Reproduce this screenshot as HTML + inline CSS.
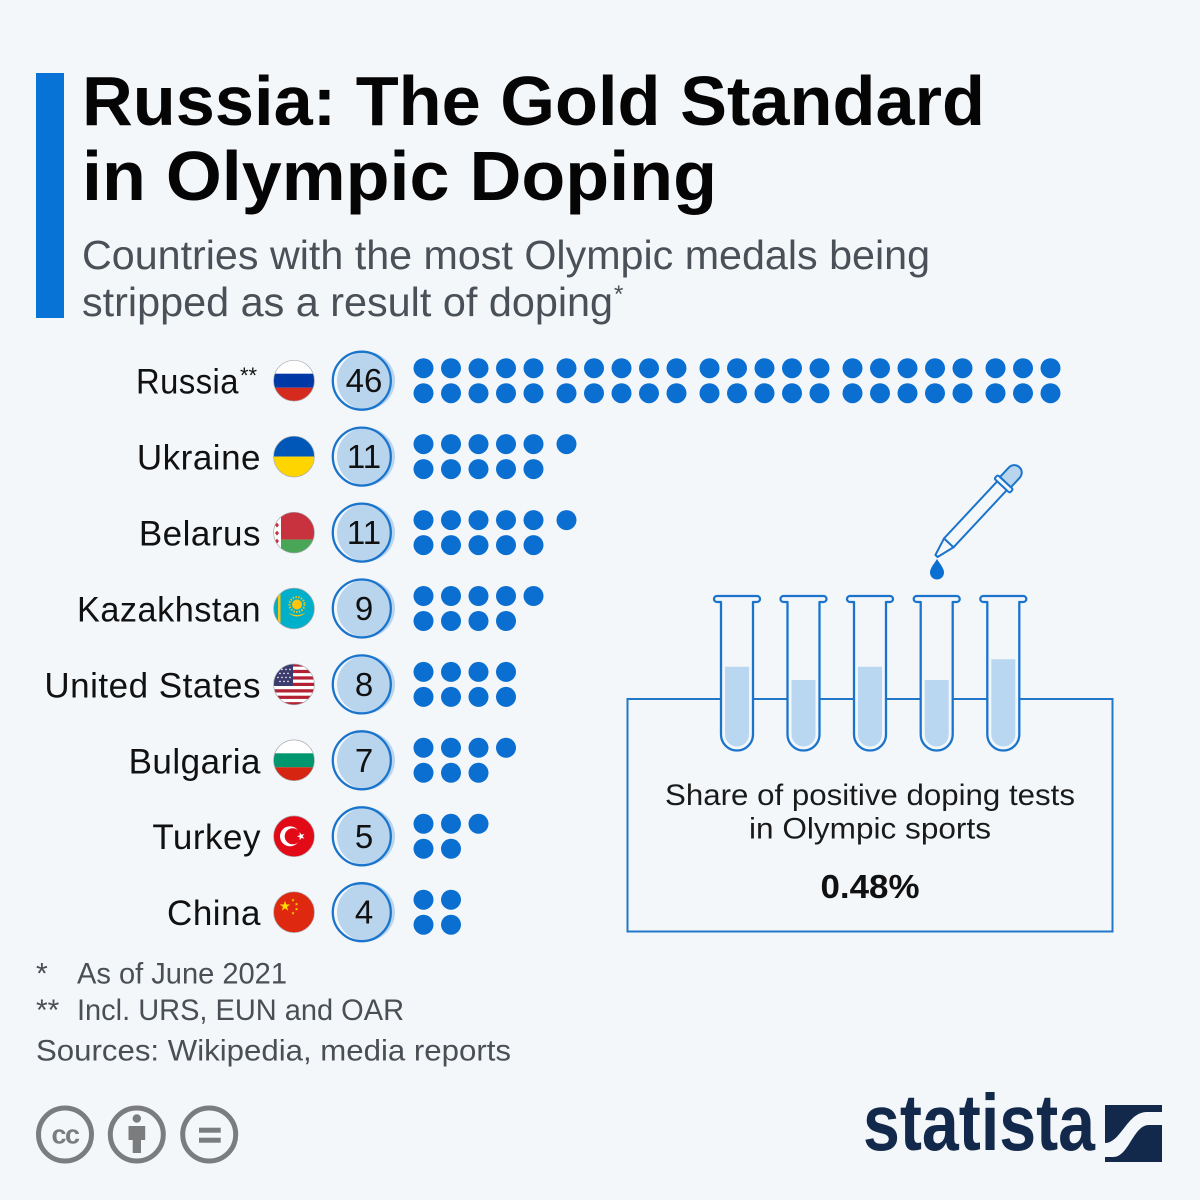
<!DOCTYPE html>
<html><head><meta charset="utf-8"><style>
html,body{margin:0;padding:0;background:#f4f7fa;}
svg{display:block;}
text{font-family:"Liberation Sans",sans-serif;}
</style></head><body>
<svg width="1200" height="1200" viewBox="0 0 1200 1200" xmlns="http://www.w3.org/2000/svg">
<defs>
  <clipPath id="fc"><circle cx="0" cy="0" r="20.4"/></clipPath>
  <polygon id="star" points="0,-1 0.2245,-0.309 0.951,-0.309 0.363,0.118 0.588,0.809 0,0.382 -0.588,0.809 -0.363,0.118 -0.951,-0.309 -0.2245,-0.309"/>
  <g id="d1" fill="#0a6fd0"><circle cx="0" cy="0" r="10"/></g>
  <g id="d2" fill="#0a6fd0"><circle cx="0" cy="0" r="10"/><circle cx="27.5" cy="0" r="10"/></g>
  <g id="d3" fill="#0a6fd0"><circle cx="0" cy="0" r="10"/><circle cx="27.5" cy="0" r="10"/><circle cx="55" cy="0" r="10"/></g>
  <g id="d4" fill="#0a6fd0"><circle cx="0" cy="0" r="10"/><circle cx="27.5" cy="0" r="10"/><circle cx="55" cy="0" r="10"/><circle cx="82.5" cy="0" r="10"/></g>
  <g id="d5" fill="#0a6fd0"><circle cx="0" cy="0" r="10"/><circle cx="27.5" cy="0" r="10"/><circle cx="55" cy="0" r="10"/><circle cx="82.5" cy="0" r="10"/><circle cx="110" cy="0" r="10"/></g>
</defs>
<rect width="1200" height="1200" fill="#f4f7fa"/>

<!-- Title bar -->
<rect x="36" y="73" width="28" height="245" fill="#0873d6"/>
<text x="82" y="125" font-size="70" font-weight="bold" fill="#050505" textLength="903" lengthAdjust="spacingAndGlyphs">Russia: The Gold Standard</text>
<text x="82" y="200" font-size="70" font-weight="bold" fill="#050505" textLength="635" lengthAdjust="spacingAndGlyphs">in Olympic Doping</text>
<text x="82" y="269" font-size="41" fill="#4a5057" textLength="848" lengthAdjust="spacingAndGlyphs">Countries with the most Olympic medals being</text>
<text x="82" y="316" font-size="41" fill="#4a5057" textLength="531" lengthAdjust="spacingAndGlyphs">stripped as a result of doping</text>
<text x="614" y="302" font-size="24" fill="#4a5057">*</text>

<!-- Country labels -->
<g font-size="35" fill="#111" text-anchor="end" letter-spacing="0.5">
  <text x="239" y="393.5" textLength="103" lengthAdjust="spacingAndGlyphs">Russia</text>
  <text x="261" y="469.5">Ukraine</text>
  <text x="261" y="545.5">Belarus</text>
  <text x="261" y="621.5" textLength="184" lengthAdjust="spacingAndGlyphs">Kazakhstan</text>
  <text x="261" y="697.5">United States</text>
  <text x="261" y="773.3">Bulgaria</text>
  <text x="261" y="849.2">Turkey</text>
  <text x="261" y="925.2">China</text>
</g>
<text x="240" y="383" font-size="22" fill="#111">**</text>

<!-- Flags -->
<g stroke="none">
  <g transform="translate(294,380.7)" clip-path="url(#fc)">
    <rect x="-21" y="-21" width="42" height="14" fill="#ffffff"/>
    <rect x="-21" y="-7" width="42" height="14" fill="#0039a6"/>
    <rect x="-21" y="7" width="42" height="14" fill="#d52b1e"/>
  </g>
  <g transform="translate(294,456.6)" clip-path="url(#fc)">
    <rect x="-21" y="-21" width="42" height="21" fill="#0057b7"/>
    <rect x="-21" y="0" width="42" height="21" fill="#ffd500"/>
  </g>
  <g transform="translate(294,532.6)" clip-path="url(#fc)">
    <rect x="-21" y="-21" width="42" height="28" fill="#c8313e"/>
    <rect x="-21" y="7" width="42" height="14" fill="#4aa657"/>
    <rect x="-21" y="-21" width="8" height="42" fill="#ffffff"/>
    <g fill="#c8313e">
      <path d="M-17,-18 l2,2.5 l-2,2.5 l-2,-2.5z"/>
      <path d="M-17,-10 l2,2.5 l-2,2.5 l-2,-2.5z"/>
      <path d="M-17,-2 l2,2.5 l-2,2.5 l-2,-2.5z"/>
      <path d="M-17,6 l2,2.5 l-2,2.5 l-2,-2.5z"/>
      <path d="M-17,14 l2,2.5 l-2,2.5 l-2,-2.5z"/>
    </g>
  </g>
  <g transform="translate(294,608.5)" clip-path="url(#fc)">
    <rect x="-21" y="-21" width="42" height="42" fill="#00afca"/>
    <rect x="-16" y="-18" width="2.5" height="36" fill="#fec50c"/>
    <circle cx="3" cy="-4" r="7.5" fill="none" stroke="#fec50c" stroke-width="2" stroke-dasharray="1.4 1.4"/>
    <circle cx="3" cy="-4" r="5" fill="#fec50c"/>
    <path d="M-6,4 Q3,9 12,4 Q3,12 -6,4z" fill="#fec50c"/>
  </g>
  <g transform="translate(294,684.4)" clip-path="url(#fc)">
    <rect x="-21" y="-21" width="42" height="42" fill="#ffffff"/>
    <g fill="#b22234">
      <rect x="-21" y="-21" width="42" height="3.23"/>
      <rect x="-21" y="-14.54" width="42" height="3.23"/>
      <rect x="-21" y="-8.08" width="42" height="3.23"/>
      <rect x="-21" y="-1.62" width="42" height="3.23"/>
      <rect x="-21" y="4.84" width="42" height="3.23"/>
      <rect x="-21" y="11.3" width="42" height="3.23"/>
      <rect x="-21" y="17.76" width="42" height="3.23"/>
    </g>
    <rect x="-21" y="-21" width="20" height="22.6" fill="#3c3b6e"/>
    <g fill="#fff">
      <circle cx="-16" cy="-15" r="0.8"/><circle cx="-12" cy="-15" r="0.8"/><circle cx="-8" cy="-15" r="0.8"/><circle cx="-4" cy="-15" r="0.8"/>
      <circle cx="-14" cy="-11" r="0.8"/><circle cx="-10" cy="-11" r="0.8"/><circle cx="-6" cy="-11" r="0.8"/>
      <circle cx="-16" cy="-7" r="0.8"/><circle cx="-12" cy="-7" r="0.8"/><circle cx="-8" cy="-7" r="0.8"/><circle cx="-4" cy="-7" r="0.8"/>
      <circle cx="-14" cy="-3" r="0.8"/><circle cx="-10" cy="-3" r="0.8"/><circle cx="-6" cy="-3" r="0.8"/>
    </g>
  </g>
  <g transform="translate(294,760.3)" clip-path="url(#fc)">
    <rect x="-21" y="-21" width="42" height="14" fill="#ffffff"/>
    <rect x="-21" y="-7" width="42" height="14" fill="#00966e"/>
    <rect x="-21" y="7" width="42" height="14" fill="#d62612"/>
  </g>
  <g transform="translate(294,836.3)" clip-path="url(#fc)">
    <rect x="-21" y="-21" width="42" height="42" fill="#e30a17"/>
    <circle cx="-4" cy="0" r="10" fill="#fff"/>
    <circle cx="-1.3" cy="0" r="8" fill="#e30a17"/>
    <use href="#star" transform="translate(7,0) rotate(-90) scale(4.2)" fill="#fff"/>
  </g>
  <g transform="translate(294,912.2)" clip-path="url(#fc)">
    <rect x="-21" y="-21" width="42" height="42" fill="#de2910"/>
    <use href="#star" transform="translate(-9,-6) scale(5.5)" fill="#ffde00"/>
    <use href="#star" transform="translate(-1,-12) scale(1.8)" fill="#ffde00"/>
    <use href="#star" transform="translate(2.5,-8) scale(1.8)" fill="#ffde00"/>
    <use href="#star" transform="translate(2.5,-3) scale(1.8)" fill="#ffde00"/>
    <use href="#star" transform="translate(-1,1) scale(1.8)" fill="#ffde00"/>
  </g>
  <g fill="none" stroke="#a8acb0" stroke-width="0.7">
    <circle cx="294" cy="380.7" r="20.4"/><circle cx="294" cy="456.6" r="20.4"/>
    <circle cx="294" cy="532.6" r="20.4"/><circle cx="294" cy="608.5" r="20.4"/>
    <circle cx="294" cy="684.4" r="20.4"/><circle cx="294" cy="760.3" r="20.4"/>
    <circle cx="294" cy="836.3" r="20.4"/><circle cx="294" cy="912.2" r="20.4"/>
  </g>
</g>

<!-- Badges -->
<g>
  <g fill="#b9d5ee">
    <circle cx="366" cy="380.7" r="29"/><circle cx="366" cy="456.6" r="29"/>
    <circle cx="366" cy="532.6" r="29"/><circle cx="366" cy="608.5" r="29"/>
    <circle cx="366" cy="684.4" r="29"/><circle cx="366" cy="760.3" r="29"/>
    <circle cx="366" cy="836.3" r="29"/><circle cx="366" cy="912.2" r="29"/>
  </g>
  <g fill="none" stroke="#1b74cb" stroke-width="2.3">
    <circle cx="361.8" cy="380.7" r="29"/><circle cx="361.8" cy="456.6" r="29"/>
    <circle cx="361.8" cy="532.6" r="29"/><circle cx="361.8" cy="608.5" r="29"/>
    <circle cx="361.8" cy="684.4" r="29"/><circle cx="361.8" cy="760.3" r="29"/>
    <circle cx="361.8" cy="836.3" r="29"/><circle cx="361.8" cy="912.2" r="29"/>
  </g>
  <g font-size="33" fill="#111" text-anchor="middle">
    <text x="364" y="392.2">46</text>
    <text x="364" y="468.1">11</text>
    <text x="364" y="544.1">11</text>
    <text x="364" y="620">9</text>
    <text x="364" y="695.9">8</text>
    <text x="364" y="771.8">7</text>
    <text x="364" y="847.8">5</text>
    <text x="364" y="923.7">4</text>
  </g>
</g>

<!-- Dots -->
<g>
  <use href="#d5" x="423.5" y="368.2"/><use href="#d5" x="566.5" y="368.2"/><use href="#d5" x="709.5" y="368.2"/><use href="#d5" x="852.5" y="368.2"/><use href="#d3" x="995.5" y="368.2"/>
  <use href="#d5" x="423.5" y="393.2"/><use href="#d5" x="566.5" y="393.2"/><use href="#d5" x="709.5" y="393.2"/><use href="#d5" x="852.5" y="393.2"/><use href="#d3" x="995.5" y="393.2"/>
  <use href="#d5" x="423.5" y="444.1"/><use href="#d1" x="566.5" y="444.1"/>
  <use href="#d5" x="423.5" y="469.1"/>
  <use href="#d5" x="423.5" y="520.1"/><use href="#d1" x="566.5" y="520.1"/>
  <use href="#d5" x="423.5" y="545.1"/>
  <use href="#d5" x="423.5" y="596"/>
  <use href="#d4" x="423.5" y="621"/>
  <use href="#d4" x="423.5" y="671.9"/>
  <use href="#d4" x="423.5" y="696.9"/>
  <use href="#d4" x="423.5" y="747.8"/>
  <use href="#d3" x="423.5" y="772.8"/>
  <use href="#d3" x="423.5" y="823.8"/>
  <use href="#d2" x="423.5" y="848.8"/>
  <use href="#d2" x="423.5" y="899.7"/>
  <use href="#d2" x="423.5" y="924.7"/>
</g>

<!-- Box -->
<rect x="627.5" y="699" width="485" height="232.5" fill="none" stroke="#2278c8" stroke-width="2"/>

<!-- Test tubes -->
<g stroke="#1b74cb" stroke-width="2.3" stroke-linejoin="round">
  <g transform="translate(737,0)">
    <path d="M-16,602 L-16,734.5 A16,16 0 0 0 16,734.5 L16,602 L20,602 A3,3 0 0 0 20,596 L-20,596 A3,3 0 0 0 -20,602 Z" fill="#f4f7fa"/>
    <path d="M-12,666.7 L-12,734.5 A12,12 0 0 0 12,734.5 L12,666.7 Z" fill="#b9d7f0" stroke="none"/>
  </g>
  <g transform="translate(803.5,0)">
    <path d="M-16,602 L-16,734.5 A16,16 0 0 0 16,734.5 L16,602 L20,602 A3,3 0 0 0 20,596 L-20,596 A3,3 0 0 0 -20,602 Z" fill="#f4f7fa"/>
    <path d="M-12,680 L-12,734.5 A12,12 0 0 0 12,734.5 L12,680 Z" fill="#b9d7f0" stroke="none"/>
  </g>
  <g transform="translate(870,0)">
    <path d="M-16,602 L-16,734.5 A16,16 0 0 0 16,734.5 L16,602 L20,602 A3,3 0 0 0 20,596 L-20,596 A3,3 0 0 0 -20,602 Z" fill="#f4f7fa"/>
    <path d="M-12,666.7 L-12,734.5 A12,12 0 0 0 12,734.5 L12,666.7 Z" fill="#b9d7f0" stroke="none"/>
  </g>
  <g transform="translate(936.7,0)">
    <path d="M-16,602 L-16,734.5 A16,16 0 0 0 16,734.5 L16,602 L20,602 A3,3 0 0 0 20,596 L-20,596 A3,3 0 0 0 -20,602 Z" fill="#f4f7fa"/>
    <path d="M-12,680 L-12,734.5 A12,12 0 0 0 12,734.5 L12,680 Z" fill="#b9d7f0" stroke="none"/>
  </g>
  <g transform="translate(1003.3,0)">
    <path d="M-16,602 L-16,734.5 A16,16 0 0 0 16,734.5 L16,602 L20,602 A3,3 0 0 0 20,596 L-20,596 A3,3 0 0 0 -20,602 Z" fill="#f4f7fa"/>
    <path d="M-12,659.3 L-12,734.5 A12,12 0 0 0 12,734.5 L12,659.3 Z" fill="#b9d7f0" stroke="none"/>
  </g>
</g>

<!-- Pipette -->
<g transform="translate(936.5,556) rotate(-47)" stroke="#1b74cb" stroke-width="2" stroke-linejoin="round">
  <path d="M0,-1.5 L18,-6.5 L18,6.5 L0,1.5 Z" fill="#f4f7fa"/>
  <rect x="18" y="-6.5" width="78" height="13" fill="#f4f7fa"/>
  <path d="M101,-7.5 L114,-7.5 A7.5,7.5 0 0 1 114,7.5 L101,7.5 Z" fill="#b9d5ee"/>
  <rect x="96" y="-10.5" width="5" height="21" rx="1.5" fill="#f4f7fa"/>
</g>
<path d="M937,559 C934,564 930,568 930,572.5 A7,7 0 0 0 944,572.5 C944,568 940,564 937,559 Z" fill="#0a6fd0"/>

<!-- Box text -->
<text x="870" y="805" font-size="30" fill="#1a1a1a" text-anchor="middle" textLength="410" lengthAdjust="spacingAndGlyphs">Share of positive doping tests</text>
<text x="870" y="838.5" font-size="30" fill="#1a1a1a" text-anchor="middle" textLength="242" lengthAdjust="spacingAndGlyphs">in Olympic sports</text>
<text x="870" y="898" font-size="33" font-weight="bold" fill="#111" text-anchor="middle" textLength="99" lengthAdjust="spacingAndGlyphs">0.48%</text>

<!-- Footer notes -->
<g font-size="30" fill="#4a4f55">
  <text x="36" y="983.5">*</text>
  <text x="77" y="983.5" textLength="210" lengthAdjust="spacingAndGlyphs">As of June 2021</text>
  <text x="36" y="1020">**</text>
  <text x="77" y="1020" textLength="327" lengthAdjust="spacingAndGlyphs">Incl. URS, EUN and OAR</text>
  <text x="36" y="1060.5" textLength="475" lengthAdjust="spacingAndGlyphs">Sources: Wikipedia, media reports</text>
</g>

<!-- CC icons -->
<g fill="none" stroke="#7b7c7d" stroke-width="5">
  <circle cx="65" cy="1134.5" r="26.5"/>
  <circle cx="136.8" cy="1134.5" r="26.5"/>
  <circle cx="209.2" cy="1134.5" r="26.5"/>
</g>
<text x="65" y="1143.5" font-size="27" font-weight="bold" fill="#7b7c7d" text-anchor="middle" letter-spacing="-1.5">cc</text>
<g fill="#7b7c7d">
  <circle cx="136.8" cy="1118.5" r="4.2"/>
  <path d="M128.5,1126 L145.2,1126 L145.2,1140 L141,1140 L141,1153 L132.7,1153 L132.7,1140 L128.5,1140 Z"/>
  <rect x="199" y="1127.7" width="21.7" height="5"/>
  <rect x="199" y="1137.7" width="21.7" height="5"/>
</g>

<!-- Statista logo -->
<text x="863" y="1150" font-size="80" font-weight="bold" fill="#13294b" textLength="232" lengthAdjust="spacingAndGlyphs">statista</text>
<g transform="translate(1105,1105)">
  <rect x="0" y="0" width="57" height="57" fill="#13294b"/>
  <path d="M0,38 C16,38 22,7 42,7 L57,7 L57,20 L44,20 C28,20 24,52 8,52 L0,52 Z" fill="#f4f7fa"/>
</g>
</svg>
</body></html>
